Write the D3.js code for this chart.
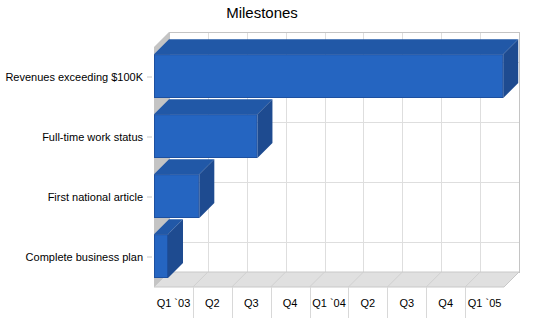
<!DOCTYPE html>
<html>
<head>
<meta charset="utf-8">
<script src="https://cdn.jsdelivr.net/npm/d3@7"></script>
<style>
  body { margin: 0; background: #fff; }
  text { font-family: "Liberation Sans", Arial, sans-serif; fill: #000; }
</style>
</head>
<body>
<svg id="chart" width="550" height="318"></svg>
<script>
const milestones = ['Revenues exceeding $100K', 'Full-time work status', 'First national article', 'Complete business plan'];
const durations = [8.98, 2.66, 1.165, 0.36]; // in quarters from Q1 `03
const quarters = ['Q1 `03', 'Q2', 'Q3', 'Q4', 'Q1 `04', 'Q2', 'Q3', 'Q4', 'Q1 `05'];

const svg = d3.select('svg#chart');
const DEPTH = 15;
const plot = { left: 154, right: 504, top: 47, bottom: 287 };

const x = d3.scaleLinear().domain([0, quarters.length]).range([plot.left, plot.right]);
const y = d3.scaleBand().domain(milestones).range([plot.top, plot.bottom]);
const xLab = d3.scaleBand().domain(d3.range(quarters.length)).range([plot.left, plot.right]);
const bw = y.bandwidth();

svg.append('text')
    .attr('x', 262).attr('y', 18)
    .attr('text-anchor', 'middle')
    .style('font-size', '15px')
    .text('Milestones');

// back wall
svg.append('rect')
    .attr('x', plot.left + DEPTH).attr('y', plot.top - DEPTH)
    .attr('width', plot.right - plot.left).attr('height', plot.bottom - plot.top)
    .attr('fill', '#fff');

const grid = svg.append('g').attr('stroke', '#dedede').attr('stroke-width', 1);
d3.range(1, quarters.length).forEach(k => {
  const gx = Math.round(x(k) + DEPTH) + 0.5;
  grid.append('line').attr('x1', gx).attr('x2', gx)
      .attr('y1', plot.top - DEPTH).attr('y2', plot.bottom - DEPTH);
});
milestones.forEach(m => {
  const gy = Math.round(y(m) + bw / 2 - DEPTH) + 0.5;
  grid.append('line').attr('x1', plot.left + DEPTH).attr('x2', plot.right + DEPTH)
      .attr('y1', gy).attr('y2', gy);
});

svg.append('rect')
    .attr('x', plot.left + DEPTH + 0.5).attr('y', plot.top - DEPTH + 0.5)
    .attr('width', plot.right - plot.left).attr('height', plot.bottom - plot.top)
    .attr('fill', 'none').attr('stroke', '#c4c4c4');

// left wall
svg.append('polygon')
    .attr('points', [[plot.left, plot.top], [plot.left + DEPTH, plot.top - DEPTH],
                     [plot.left + DEPTH, plot.bottom - DEPTH], [plot.left, plot.bottom]].join(' '))
    .attr('fill', '#c4c4c4');

// floor
svg.append('polygon')
    .attr('points', [[plot.left, plot.bottom], [plot.left + DEPTH, plot.bottom - DEPTH],
                     [plot.right + DEPTH, plot.bottom - DEPTH], [plot.right, plot.bottom]].join(' '))
    .attr('fill', '#e0e0e0').attr('stroke', '#c8c8c8');
d3.range(1, quarters.length).forEach(k => {
  svg.append('line')
      .attr('x1', x(k) + DEPTH).attr('y1', plot.bottom - DEPTH)
      .attr('x2', x(k)).attr('y2', plot.bottom)
      .attr('stroke', '#d0d0d0');
});

// bars
const barH = bw * 0.73;
milestones.forEach((m, i) => {
  const x0 = x(0), x1 = x(durations[i]);
  const yt = y(m) + bw * 0.12, yb = yt + barH;
  svg.append('polygon')
      .attr('points', [[x0, yt], [x0 + DEPTH, yt - DEPTH], [x1 + DEPTH, yt - DEPTH], [x1, yt]].join(' '))
      .attr('fill', '#2158a7');
  svg.append('polygon')
      .attr('points', [[x1, yt], [x1 + DEPTH, yt - DEPTH], [x1 + DEPTH, yb - DEPTH], [x1, yb]].join(' '))
      .attr('fill', '#1e4b90');
  svg.append('rect')
      .attr('x', x0 + 0.5).attr('y', yt + 0.5)
      .attr('width', x1 - x0 - 1).attr('height', barH - 1)
      .attr('fill', '#2565c1').attr('stroke', '#1d50a0');
});

// y axis labels and ticks
const yAxis = svg.append('g')
    .attr('transform', `translate(${plot.left - 2},0)`)
    .call(d3.axisLeft(y).tickSize(5).tickPadding(4));
yAxis.select('.domain').remove();
yAxis.selectAll('line').attr('stroke', '#c8c8c8');
yAxis.selectAll('text').style('font-size', '11px').attr('fill', '#000');

// x axis: quarter labels with separators
const xAxis = svg.append('g')
    .attr('transform', `translate(0,${plot.bottom})`)
    .call(d3.axisBottom(xLab).tickSize(0).tickPadding(12).tickFormat(i => quarters[i]));
xAxis.select('.domain').remove();
xAxis.selectAll('text').style('font-size', '11px').attr('fill', '#000');
d3.range(1, quarters.length).forEach(k => {
  const sx = Math.round(x(k)) + 0.5;
  svg.append('line').attr('x1', sx).attr('x2', sx)
      .attr('y1', plot.bottom).attr('y2', 318)
      .attr('stroke', '#d8d8d8');
});
</script>
</body>
</html>
